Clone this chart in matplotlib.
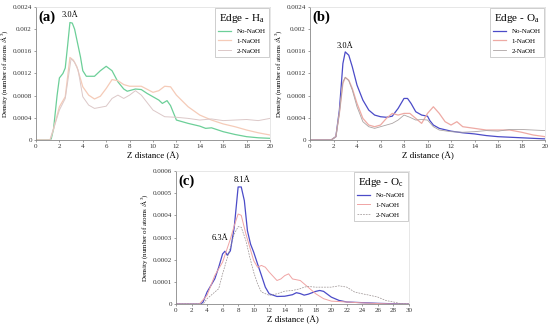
import numpy as np
import matplotlib
matplotlib.use("Agg")
import matplotlib.pyplot as plt

plt.rcParams['font.family'] = ['Liberation Serif', 'DejaVu Serif']
plt.rcParams['mathtext.fontset'] = 'custom'
plt.rcParams['mathtext.rm'] = 'Liberation Serif'

# ---- panel (a): Edge - Ha ----
a_x_no = [0, 1.2, 1.3, 1.5, 1.8, 2.0, 2.3, 2.5, 2.7, 2.9, 3.1, 3.3, 3.5, 3.8, 4.0, 4.3, 5.0, 5.5, 6.0, 6.5,
          7.0, 7.5, 7.8, 8.5, 9.0, 9.5, 10.0, 10.5, 10.8, 11.2, 11.5, 12.0, 13.0, 14.0, 14.5, 15.0, 16.0, 17.0, 18.0, 19.0, 20.0]
a_y_no = [0, 0, 0.00002, 0.0002, 0.0008, 0.00112, 0.0012, 0.0013, 0.0017, 0.00212, 0.00211, 0.002, 0.0018, 0.0015,
          0.00125, 0.00115, 0.00115, 0.00125, 0.00133, 0.00125, 0.00105, 0.00092, 0.00088, 0.00092, 0.00091, 0.00084,
          0.00078, 0.00072, 0.00066, 0.00071, 0.00062, 0.00036, 0.0003, 0.00025, 0.00021, 0.00022, 0.00015, 0.0001,
          0.00006, 0.00004, 0.00003]
a_x_1 = [0, 1.2, 1.5, 2.0, 2.5, 2.9, 3.2, 3.5, 4.0, 4.5, 5.0, 5.5, 6.0, 6.5, 7.0, 7.5, 8.0, 9.0, 10.0, 10.5, 11.0,
         11.5, 12.0, 13.0, 14.0, 15.0, 16.0, 17.0, 18.0, 19.0, 20.0]
a_y_1 = [0, 0, 0.0002, 0.0006, 0.00078, 0.00149, 0.00144, 0.00132, 0.00096, 0.00081, 0.00074, 0.00079, 0.00093,
         0.00109, 0.00107, 0.001, 0.00097, 0.00097, 0.00086, 0.00089, 0.00097, 0.00096, 0.00081, 0.0006, 0.00045,
         0.00036, 0.00029, 0.00024, 0.00018, 0.00013, 0.00009]
a_x_2 = [0, 1.2, 1.5, 2.0, 2.5, 3.0, 3.3, 3.6, 4.0, 4.5, 5.0, 6.0, 6.5, 7.0, 7.5, 8.0, 8.5, 9.0, 10.0, 11.0, 12.0,
         13.0, 14.0, 15.0, 16.0, 17.0, 18.0, 19.0, 20.0]
a_y_2 = [0, 0, 0.0002, 0.00054, 0.00075, 0.00147, 0.0014, 0.00126, 0.00078, 0.00063, 0.00057, 0.00061, 0.00075,
         0.00081, 0.00075, 0.00081, 0.00089, 0.00081, 0.00054, 0.00042, 0.00041, 0.00039, 0.00036, 0.00038, 0.00035,
         0.00036, 0.00037, 0.00035, 0.00039]

# ---- panel (b): Edge - Oa ----
b_x_no = [0, 1.8, 2.2, 2.5, 2.8, 3.0, 3.3, 3.6, 4.0, 4.5, 5.0, 5.5, 6.0, 6.5, 7.0, 7.5, 8.0, 8.3, 8.6, 9.0, 9.5,
          10.0, 10.2, 10.5, 11.0, 12.0, 13.0, 14.0, 15.0, 16.0, 17.0, 18.0, 19.0, 20.0]
b_y_no = [0, 0, 0.00006, 0.00054, 0.00138, 0.00159, 0.00153, 0.00132, 0.00099, 0.00072, 0.00054, 0.00045, 0.00042,
          0.00041, 0.00043, 0.00057, 0.00075, 0.00075, 0.00066, 0.00051, 0.00045, 0.00043, 0.00035, 0.00027,
          0.00021, 0.00016, 0.00013, 0.00011, 0.00008, 0.00006, 0.00005, 0.00004, 0.00003, 0.00002]
b_x_1 = [0, 1.8, 2.2, 2.5, 2.8, 3.0, 3.3, 3.6, 4.0, 4.5, 5.0, 5.5, 6.0, 6.5, 7.0, 7.5, 8.0, 8.5, 9.0, 9.5, 10.0,
         10.5, 11.0, 11.5, 12.0, 12.5, 13.0, 14.0, 15.0, 16.0, 17.0, 18.0, 19.0, 20.0]
b_y_1 = [0, 0, 0.00006, 0.00048, 0.00102, 0.00113, 0.00108, 0.00093, 0.00066, 0.00039, 0.00027, 0.00024, 0.00027,
         0.00039, 0.00048, 0.00045, 0.00048, 0.00048, 0.00039, 0.0003, 0.00048, 0.0006, 0.00048, 0.00033, 0.00027,
         0.00033, 0.00024, 0.00021, 0.00018, 0.00018, 0.00018, 0.00014, 0.00009, 0.00006]
b_x_2 = [0, 1.8, 2.2, 2.5, 2.8, 3.0, 3.3, 3.6, 4.0, 4.5, 5.0, 5.5, 6.0, 7.0, 7.5, 8.0, 8.5, 9.0, 9.5, 10.0, 10.5,
         11.0, 12.0, 13.0, 14.0, 15.0, 16.0, 17.0, 18.0, 19.0, 20.0]
b_y_2 = [0, 0, 0.00006, 0.00048, 0.00105, 0.00113, 0.00107, 0.0009, 0.0006, 0.00033, 0.00024, 0.00021, 0.00024,
         0.0003, 0.00036, 0.00045, 0.00041, 0.00036, 0.00037, 0.00036, 0.00024, 0.00018, 0.00015, 0.00014,
         0.00015, 0.00017, 0.00016, 0.00019, 0.00019, 0.00018, 0.00017]

# ---- panel (c): Edge - Oc ----
c_x_no = [0, 3.2, 3.5, 4.0, 4.5, 5.0, 5.5, 6.0, 6.3, 6.6, 7.0, 7.5, 8.0, 8.4, 8.8, 9.2, 9.6, 10.0, 10.5, 11.0,
          11.5, 12.0, 13.0, 14.0, 15.0, 15.5, 16.0, 16.5, 17.0, 18.0, 18.5, 19.0, 20.0, 21.0, 22.0, 24.0, 26.0, 28.0, 30.0]
c_y_no = [0, 0, 0.00001, 0.000054, 0.000084, 0.000114, 0.000166, 0.000226, 0.000238, 0.00022, 0.00024, 0.000346,
          0.000528, 0.000528, 0.000466, 0.00033, 0.00027, 0.000234, 0.000181, 0.000129, 0.000076, 0.000046,
          0.000034, 0.000035, 0.000042, 0.000051, 0.000047, 0.00004, 0.000044, 0.000057, 0.000061, 0.000057,
          0.000031, 0.000016, 0.000009, 0.000006, 0.000003, 0.000001, 0]
c_x_1 = [0, 3.0, 4.0, 5.0, 6.0, 7.0, 7.5, 8.0, 8.4, 9.0, 9.5, 10.0, 10.5, 11.0, 11.5, 12.0, 13.0, 13.5, 14.0, 14.5,
         15.0, 16.0, 17.0, 18.0, 19.0, 20.0, 22.0, 24.0, 26.0, 28.0, 30.0]
c_y_1 = [0, 0, 0.000039, 0.000129, 0.000189, 0.000293, 0.000353, 0.000406, 0.0004, 0.000316, 0.000256, 0.000196,
         0.000166, 0.000174, 0.000166, 0.000144, 0.000106, 0.000113, 0.000128, 0.000136, 0.000113, 0.000106,
         0.000076, 0.000046, 0.000024, 0.000013, 0.000009, 0.000005, 0.000002, 0, 0]
c_x_2 = [0, 3.5, 4.0, 5.0, 5.5, 6.0, 7.0, 7.5, 8.0, 8.4, 9.0, 9.5, 10.0, 10.5, 11.0, 12.0, 13.0, 14.0, 15.0, 16.0,
         16.5, 17.0, 18.0, 19.0, 20.0, 21.0, 22.0, 23.0, 24.0, 25.0, 26.0, 27.0, 28.0, 29.0, 30.0]
c_y_2 = [0, 0, 0.000024, 0.000054, 0.000069, 0.000136, 0.000256, 0.000316, 0.000349, 0.000346, 0.000286, 0.000211,
         0.000144, 0.000091, 0.000054, 0.000039, 0.000046, 0.000058, 0.000061, 0.000069, 0.000076, 0.000079,
         0.000076, 0.000076, 0.000076, 0.000082, 0.000076, 0.000054, 0.000046, 0.000039, 0.000031, 0.000016,
         0.000009, 0.000001, 0]

ab_yticks = [0, 0.0004, 0.0008, 0.0012, 0.0016, 0.002, 0.0024]
ab_ylabels = ['0', '0.0004', '0.0008', '0.0012', '0.0016', '0.002', '0.0024']
c_yticks = [0, 0.0001, 0.0002, 0.0003, 0.0004, 0.0005, 0.0006]
c_ylabels = ['0', '0.0001', '0.0002', '0.0003', '0.0004', '0.0005', '0.0006']

W, H = 550, 328
fig = plt.figure(figsize=(5.5, 3.28), dpi=100)


def px_axes(l, t, r, b):
    return fig.add_axes([l / W, 1 - b / H, (r - l) / W, (b - t) / H])


def style(ax, xmax, xstep, yticks, ylabels):
    ax.set_xlim(0, xmax)
    ax.set_xticks(np.arange(0, xmax + 0.1, xstep))
    ax.set_ylim(yticks[0], yticks[-1])
    ax.set_yticks(yticks)
    ax.set_yticklabels(ylabels)
    ax.tick_params(labelsize=5, length=1.5, width=0.4, pad=1.5, colors='#555555', labelcolor='#333333')
    for s in ['left', 'bottom']:
        ax.spines[s].set_color('#888888')
        ax.spines[s].set_linewidth(0.6)
    for s in ['top', 'right']:
        ax.spines[s].set_color('#dddddd')
        ax.spines[s].set_linewidth(0.5)
    ax.set_xlabel('Z distance (Å)', fontsize=6.5, labelpad=2)
    ax.set_ylabel('Density (number of atoms /Å$^3$)', fontsize=5, labelpad=2)


def legend(ax, title):
    leg = ax.legend(title=title, loc='upper right', fontsize=5, title_fontsize=8,
                    frameon=True, fancybox=False, handlelength=1.8, handletextpad=0.8,
                    borderpad=0.5, labelspacing=0.55, borderaxespad=0.15)
    leg.get_frame().set_edgecolor('#aaaaaa')
    leg.get_frame().set_linewidth(0.5)


# (a)
ax = px_axes(36, 7, 270, 140)
ax.plot(a_x_no, a_y_no, color='#6ccf98', lw=0.9, label='No-NaOH')
ax.plot(a_x_1, a_y_1, color='#f5cbb8', lw=0.9, label='1-NaOH')
ax.plot(a_x_2, a_y_2, color='#dcc8c8', lw=0.7, label='2-NaOH')
style(ax, 20, 2, ab_yticks, ab_ylabels)
legend(ax, 'Edge - H$_\\mathrm{a}$')
ax.text(0.01, 0.925, '(a)', transform=ax.transAxes, fontsize=10.5, fontweight='bold', va='center')
ax.text(2.9, 0.00226, '3.0Å', fontsize=6, ha='center', va='center')

# (b)
ax = px_axes(310, 7, 545, 140)
ax.plot(b_x_no, b_y_no, color='#4b4bc8', lw=0.9, label='No-NaOH')
ax.plot(b_x_1, b_y_1, color='#eeaaa4', lw=0.9, label='1-NaOH')
ax.plot(b_x_2, b_y_2, color='#aca4a4', lw=0.6, label='2-NaOH')
style(ax, 20, 2, ab_yticks, ab_ylabels)
legend(ax, 'Edge - O$_\\mathrm{a}$')
ax.text(0.01, 0.925, '(b)', transform=ax.transAxes, fontsize=10.5, fontweight='bold', va='center')
ax.text(3.0, 0.0017, '3.0Å', fontsize=6, ha='center', va='center')

# (c)
ax = px_axes(176, 171, 409, 304)
ax.plot(c_x_no, c_y_no, color='#4b4bc8', lw=0.9, label='No-NaOH')
ax.plot(c_x_1, c_y_1, color='#f0a4a4', lw=0.7, label='1-NaOH')
ax.plot(c_x_2, c_y_2, color='#999090', lw=0.5, ls=(0, (2.5, 1.5)), label='2-NaOH')
style(ax, 30, 2, c_yticks, c_ylabels)
legend(ax, 'Edge - O$_\\mathrm{c}$')
ax.text(0.01, 0.925, '(c)', transform=ax.transAxes, fontsize=10.5, fontweight='bold', va='center')
ax.text(8.5, 0.00056, '8.1Å', fontsize=6, ha='center', va='center')
ax.text(5.7, 0.000298, '6.3Å', fontsize=6, ha='center', va='center')

fig.savefig('out.png', dpi=100)
